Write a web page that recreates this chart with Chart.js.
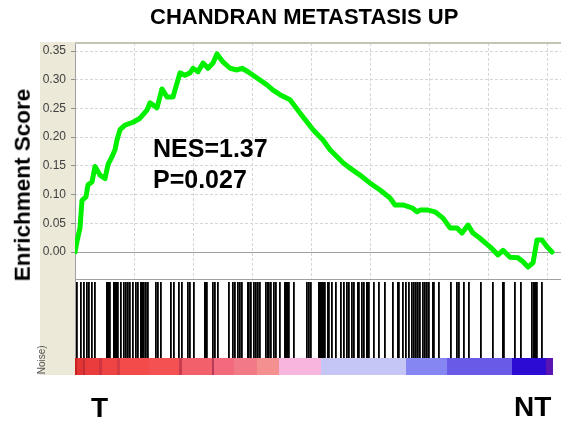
<!DOCTYPE html>
<html>
<head>
<meta charset="utf-8">
<script src="https://cdn.jsdelivr.net/npm/chart.js@4.4.1/dist/chart.umd.min.js"></script>
<style>
  body { margin: 0; background: #fff; }
  #wrap { position: relative; width: 561px; height: 423px; overflow: hidden; font-family: "Liberation Sans", Arial, sans-serif; }
  #es-chart { position: absolute; left: 0; top: 0; }
  .lbl { position: absolute; font-weight: bold; color: #000; line-height: 1; white-space: nowrap; }
  #metric-lbl { position: absolute; left: 37px; top: 338px; width: 12px; height: 37px; overflow: hidden; }
  #metric-lbl span { position: absolute; left: 0; top: 73px; font-size: 10px; line-height: 1; color: #555;
                     white-space: nowrap; transform-origin: 0 0; transform: rotate(-90deg); }
</style>
</head>
<body>
<div id="wrap">
  <canvas id="es-chart" width="561" height="423"></canvas>
  <div class="lbl" style="left:150px; top:6px; font-size:22px;">CHANDRAN METASTASIS UP</div>
  <div class="lbl" style="left:23px; top:185px; font-size:22.5px; transform: translate(-50%, -50%) rotate(-90deg);">Enrichment Score</div>
  <div class="lbl" style="left:153px; top:136px; font-size:25px;">NES=1.37</div>
  <div class="lbl" style="left:153px; top:167px; font-size:25px;">P=0.027</div>
  <div class="lbl" style="left:91px; top:394px; font-size:28px;">T</div>
  <div class="lbl" style="left:514px; top:393px; font-size:28px;">NT</div>
  <div id="metric-lbl"><span>(Signal2Noise)</span></div>
</div>
<script>
// running enrichment score (rank in gene list -> ES)
const esRank = [0, 68, 169, 237, 372, 440, 575, 677, 846, 1015, 1117, 1252, 1354, 1421, 1523, 1692, 1963,
  2200, 2436, 2538, 2775, 2944, 3113, 3316, 3553, 3722, 3892, 3993, 4162, 4332, 4501, 4670, 4805, 5008,
  5245, 5482, 5651, 5854, 6159, 6497, 6700, 6937, 7276, 7614, 8054, 8392, 8629, 9035, 9306, 9644, 9983,
  10321, 10660, 10829, 11100, 11404, 11573, 11675, 11946, 12182, 12453, 12690, 12927, 13096, 13299,
  13468, 13705, 14044, 14314, 14484, 14721, 14991, 15160, 15330, 15499, 15634, 15803, 15973, 16142];
const esScore = [0.000, 0.019, 0.042, 0.090, 0.096, 0.117, 0.122, 0.149, 0.134, 0.128, 0.152, 0.166, 0.178,
  0.195, 0.213, 0.221, 0.226, 0.233, 0.247, 0.260, 0.251, 0.284, 0.270, 0.270, 0.312, 0.308, 0.312, 0.320,
  0.314, 0.329, 0.320, 0.329, 0.345, 0.331, 0.320, 0.317, 0.320, 0.314, 0.303, 0.291, 0.282, 0.274, 0.265,
  0.242, 0.213, 0.195, 0.178, 0.157, 0.146, 0.134, 0.120, 0.108, 0.094, 0.082, 0.082, 0.077, 0.070, 0.073,
  0.073, 0.070, 0.059, 0.042, 0.042, 0.033, 0.047, 0.033, 0.024, 0.009, -0.005, 0.003, -0.009, -0.010,
  -0.017, -0.026, -0.019, 0.021, 0.021, 0.009, 0.000];

// positions of gene set members in the ranked list (barcode)
const hitRanks = [34, 169, 271, 372, 440, 541, 643, 1049, 1083, 1117, 1151, 1286, 1320, 1354, 1388, 1421,
  1523, 1624, 1692, 1760, 1827, 1929, 2030, 2098, 2200, 2233, 2267, 2301, 2369, 2436, 2707, 2775, 2876,
  3215, 3316, 3486, 3587, 3790, 3858, 3993, 4365, 4399, 4433, 4636, 4704, 4805, 5178, 5313, 5381, 5482,
  5550, 5617, 5820, 5854, 5922, 6024, 6091, 6159, 6227, 6430, 6497, 6531, 6599, 6700, 6768, 6903,
  7073, 7106, 7140, 7174, 7208, 7377, 7817, 7885, 7952, 8223, 8257, 8291, 8324, 8358, 8392, 8426, 8528,
  8562, 8663, 8798, 8968, 9069, 9171, 9238, 9340, 9408, 9543, 9577, 9678, 9746, 9847, 9881, 9915, 10084,
  10254, 10457, 10727, 10897, 10930, 11066, 11167, 11269, 11370, 11438, 11506, 11573, 11641, 11743,
  11810, 11878, 11946, 12081, 12115, 12284, 12690, 12893, 12961, 13130, 13299, 13705, 14111, 14450,
  14484, 14856, 15059, 15431, 15499, 15533, 15567, 15600, 15770];

// ranked list metric colour bands: band i runs from metricEdges[i] to metricEdges[i+1]
const metricEdges = [0, 102, 305, 372, 846, 948, 1455, 1557, 2538, 3553, 3655, 4670, 4738, 5414, 6193,
  6937, 8358, 11235, 12622, 14822, 15973, 16142];
const metricColors = ['#c82020', '#e33434', '#c42c34', '#ea3c3c', '#d03440', '#ef4444', '#d63c44',
  '#f34a4a', '#f45252', '#c83c50', '#f2606c', '#b83a5a', '#f26a7c', '#f27a86', '#f49090', '#f8b6de',
  '#c6c6f6', '#8686f2', '#6a5ae8', '#2c0cd2', '#5a14b4'];

const esTicks = [0.00, 0.05, 0.10, 0.15, 0.20, 0.25, 0.30, 0.35];
const rankTicks = [0, 2000, 4000, 6000, 8000, 10000, 12000, 14000, 16000];

const RANK_MAX = 16446;

Chart.defaults.font.family = '"Liberation Sans", Arial, sans-serif';

const esPoints = esRank.map((r, i) => ({ x: r, y: esScore[i] }));
const hitBars = hitRanks.map(r => ({ x: r, y: 1 }));
const metricBars = metricColors.map((c, i) => ({ x: [metricEdges[i], metricEdges[i + 1]], y: 'metric' }));

// beige axis strip, panel borders and the zero line
const framePlugin = {
  id: 'frame',
  beforeDraw(chart) {
    const { ctx, chartArea } = chart;
    ctx.save();
    ctx.fillStyle = '#ece9d8';
    ctx.fillRect(40, chartArea.top - 1, chartArea.left - 40, chartArea.bottom - chartArea.top + 1);
    ctx.restore();
  },
  beforeDatasetsDraw(chart) {
    const { ctx, chartArea, scales } = chart;
    const hit = scales.yHit;
    const y0 = Math.round(scales.yES.getPixelForValue(0)) + 0.5;
    ctx.save();
    // keep the dashed x grid inside the ES panel only
    ctx.fillStyle = '#fff';
    ctx.fillRect(chartArea.left + 1, hit.top, chartArea.right - chartArea.left, chartArea.bottom - hit.top);

    ctx.strokeStyle = '#a0a0a0';
    ctx.lineWidth = 1;
    ctx.beginPath();
    ctx.moveTo(chartArea.left, y0);
    ctx.lineTo(chartArea.right, y0);
    ctx.moveTo(chartArea.left, Math.round(hit.top) + 0.5);
    ctx.lineTo(chartArea.right, Math.round(hit.top) + 0.5);
    ctx.moveTo(chartArea.left + 0.5, chartArea.top);
    ctx.lineTo(chartArea.left + 0.5, chartArea.bottom);
    ctx.stroke();

    ctx.strokeStyle = '#c4c4b4';
    ctx.lineWidth = 2;
    ctx.beginPath();
    ctx.moveTo(chartArea.left, chartArea.top);
    ctx.lineTo(chartArea.right, chartArea.top);
    ctx.stroke();
    ctx.restore();
  }
};

new Chart(document.getElementById('es-chart'), {
  type: 'bar',
  data: {
    datasets: [{
      type: 'line',
      data: esPoints,
      xAxisID: 'x',
      yAxisID: 'yES',
      borderColor: '#00f000',
      borderWidth: 5,
      pointRadius: 0,
      tension: 0,
      borderJoinStyle: 'round',
      borderCapStyle: 'round'
    }, {
      type: 'bar',
      data: hitBars,
      xAxisID: 'xHit',
      yAxisID: 'yHit',
      backgroundColor: '#000',
      barThickness: 1.8,
      inflateAmount: 0
    }, {
      type: 'bar',
      indexAxis: 'y',
      data: metricBars,
      xAxisID: 'x',
      yAxisID: 'yGrad',
      backgroundColor: metricColors,
      grouped: false,
      barPercentage: 1,
      categoryPercentage: 1,
      inflateAmount: 1
    }]
  },
  options: {
    responsive: false,
    animation: false,
    events: [],
    layout: { padding: { left: 40, top: 43, right: 0, bottom: 48 } },
    plugins: {
      legend: { display: false },
      tooltip: { enabled: false }
    },
    scales: {
      x: {
        type: 'linear',
        position: 'bottom',
        min: 0,
        max: RANK_MAX,
        offset: false,
        afterBuildTicks: ax => { ax.ticks = rankTicks.map(v => ({ value: v })); },
        afterFit: ax => { ax.height = 0; },
        ticks: { display: false, autoSkip: false },
        border: { display: false, dash: [3, 2] },
        grid: { color: '#d6d6d6', drawTicks: false, offset: false }
      },
      xHit: {
        type: 'linear',
        position: 'bottom',
        min: 0,
        max: RANK_MAX,
        offset: false,
        display: false
      },
      yGrad: {
        type: 'category',
        labels: ['metric'],
        offset: true,
        position: 'left',
        stack: 'plot',
        stackWeight: 17,
        afterFit: ax => { ax.width = 35; },
        ticks: { display: false },
        grid: { display: false },
        border: { display: false }
      },
      yHit: {
        type: 'linear',
        min: 0,
        max: 1.04,
        position: 'left',
        stack: 'plot',
        stackWeight: 79,
        afterFit: ax => { ax.width = 35; },
        ticks: { display: false },
        grid: { display: false },
        border: { display: false }
      },
      yES: {
        type: 'linear',
        min: -0.047,
        max: 0.364,
        position: 'left',
        stack: 'plot',
        stackWeight: 236,
        afterBuildTicks: ax => { ax.ticks = esTicks.map(v => ({ value: v })); },
        afterFit: ax => { ax.width = 35; },
        ticks: { color: '#404040', font: { size: 12 }, padding: 5, autoSkip: false, callback: v => v.toFixed(2) },
        grid: { color: '#d6d6d6', tickColor: '#909090', tickLength: 4 },
        border: { display: false, dash: [3, 2] }
      }
    }
  },
  plugins: [framePlugin]
});
</script>
</body>
</html>
